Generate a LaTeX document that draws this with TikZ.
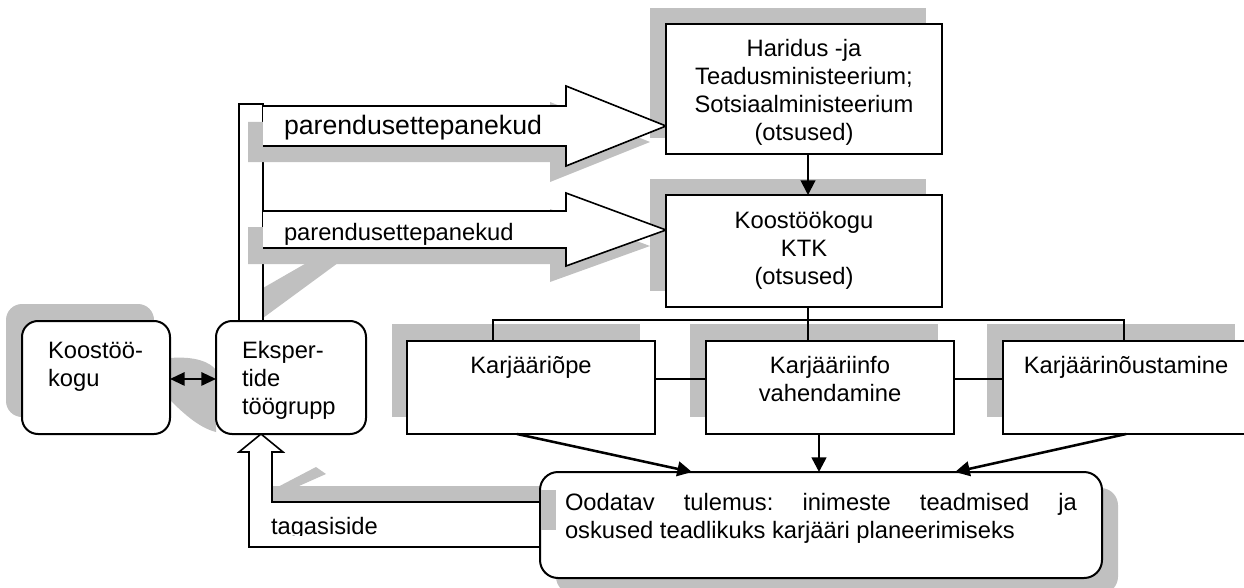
\documentclass[tikz,border=0pt]{standalone}
\usepackage{fontspec}
\setmainfont{Liberation Sans}
\usetikzlibrary{arrows.meta,calc}
\definecolor{shd}{RGB}{192,192,192}
\frenchspacing
\begin{document}
\begin{tikzpicture}[x=0.75pt,y=-0.75pt,
  every node/.style={font=\fontsize{17.8}{21}\selectfont, inner sep=0pt, outer sep=0pt},
  box/.style={draw, fill=white, line width=1.5pt, rectangle},
  rbox/.style={box, rounded corners=12pt},
  txt/.style={anchor=base, align=center},
  ltxt/.style={anchor=base west, align=left},
  shadow/.style={fill=shd},
  blockarrow/.style={draw, fill=white, line width=1.2pt, line join=miter},
  link/.style={line width=1.5pt},
  tip/.style={-{Triangle[length=11pt,width=11pt]}},
  arr/.style={line width=1.9pt, tip},
]
\useasboundingbox (0,0) rectangle (1244,588);

% ---------- shadows ----------
\fill[shadow, rounded corners=12pt] (6,304) rectangle (154,417);
\fill[shadow] (170,358) .. controls (195,356) and (210,362) .. (216,370) -- (216,432) .. controls (200,428) and (185,415) .. (170,400) -- cycle;
\fill[shadow] (263,288) -- (350,238) -- (372,238) -- (263,318) -- cycle;
\fill[shadow] (650,8) rectangle (926,138);
\fill[shadow] (650,179) rectangle (926,291);
\fill[shadow] (392,324) rectangle (640,417);
\fill[shadow] (690,324) rectangle (938,417);
\fill[shadow] (987,324) rectangle (1235,417);
\fill[shadow, rounded corners=13pt] (556,488) rectangle (1118,594);
\fill[shadow] (265,486) rectangle (540,531);
\fill[shadow] (272,490) -- (316,467) -- (326,474) -- (290,490) -- cycle;

% ---------- vertical bar and block arrows ----------
\filldraw[blockarrow] (239,321) rectangle (263,104);
\fill[shadow] (248,122) -- (550,122) -- (550,102) -- (650,142) -- (550,182) -- (550,162) -- (248,162) -- cycle;
\fill[shadow] (248,227) -- (550,227) -- (550,209) -- (650,246) -- (550,282) -- (550,264) -- (248,264) -- cycle;
\filldraw[blockarrow] (263,106) -- (566,106) -- (566,86) -- (666,126) -- (566,166) -- (566,146) -- (263,146);
\filldraw[blockarrow] (263,211) -- (566,211) -- (566,193) -- (666,230) -- (566,266) -- (566,248) -- (263,248);
\filldraw[blockarrow] (540,502) -- (272,502) -- (272,452) -- (283,452) -- (261,434) -- (239,452) -- (249,452) -- (249,547) -- (540,547);

\node[anchor=base west, font=\fontsize{20}{24}\selectfont] (pe1) at (284,135) {parendusettepanekud};
\node[anchor=base west] (pe2) at (284,240) {parendusettepanekud};
\begin{scope}
  \clip (250,505) rectangle (538,535);
  \node[anchor=base west] (tag) at (271,534) {tagasiside};
\end{scope}

% ---------- boxes ----------
\node[box, minimum width=207pt, minimum height=97.5pt] (har) at (804,89) {};
\node[box, minimum width=207pt, minimum height=84pt] (ktk) at (804,251) {};
\node[box, minimum width=186pt, minimum height=69.75pt] (kop) at (531,387.5) {};
\node[box, minimum width=186pt, minimum height=69.75pt] (kinfo) at (830,387.5) {};
\node[box, minimum width=186pt, minimum height=69.75pt] (knou) at (1127,387.5) {};
\node[rbox, minimum width=111pt, minimum height=84.75pt] (kk) at (96,377.5) {};
\node[rbox, minimum width=112.5pt, minimum height=84.75pt] (eksp) at (291,377.5) {};
\node[box, rounded corners=13.5pt, minimum width=421.5pt, minimum height=79.5pt] (res) at (821,525) {};
\fill[shadow] (541,490) rectangle (556,530);
\draw[line width=1.5pt] (540,489) -- (540,531);

% ---------- texts (base = last line) ----------
\node[txt] (hart) at (804,141) {Haridus -ja\\Teadusministeerium;\\Sotsiaalministeerium\\(otsused)};
\node[txt] (ktkt) at (804,284) {Koostöökogu\\KTK\\(otsused)};
\node[txt] (kopt) at (531,373) {Karjääriõpe};
\node[txt] (kinfot) at (830,401) {Karjääriinfo\\vahendamine};
\node[txt] (knout) at (1126,373) {Karjäärinõustamine};
\node[ltxt] (kkt) at (48,386) {Koostöö-\\kogu};
\node[ltxt] (ekspt) at (242,414) {Eksper-\\tide\\töögrupp};
\node[anchor=base west, text width=384pt, align=justify] (rest) at (565,510)
  {Oodatav tulemus: inimeste teadmised ja\linebreak oskused teadlikuks karjääri planeerimiseks};

% ---------- connectors ----------
\draw[link, tip] ([xshift=3pt]har.south) -- ([xshift=3pt]ktk.north);
\draw[link] ([xshift=3pt]ktk.south) -- ([xshift=3pt]ktk.south |- kinfo.north);
\draw[link] ([xshift=-28.5pt]kop.north) -- ++(0,-21) -| ([xshift=-2.25pt]knou.north);
\draw[link] ([yshift=6.4pt]kop.east) -- ([yshift=6.4pt]kinfo.west);
\draw[link] ([yshift=6.4pt]kinfo.east) -- ([yshift=6.4pt]knou.west);
\draw[link, {Triangle[length=11pt,width=10pt]}-{Triangle[length=11pt,width=10pt]}] ([yshift=-1.1pt]kk.east) -- ([yshift=-1.1pt]eksp.west);
\draw[arr] ([xshift=-10.5pt]kop.south) -- ([xshift=-96.75pt]res.north);
\draw[arr] ([xshift=-8.25pt]kinfo.south) -- ([xshift=-8.25pt]kinfo.south |- res.north);
\draw[arr] ([xshift=-0.75pt]knou.south) -- ([xshift=100.5pt]res.north);
\end{tikzpicture}
\end{document}
